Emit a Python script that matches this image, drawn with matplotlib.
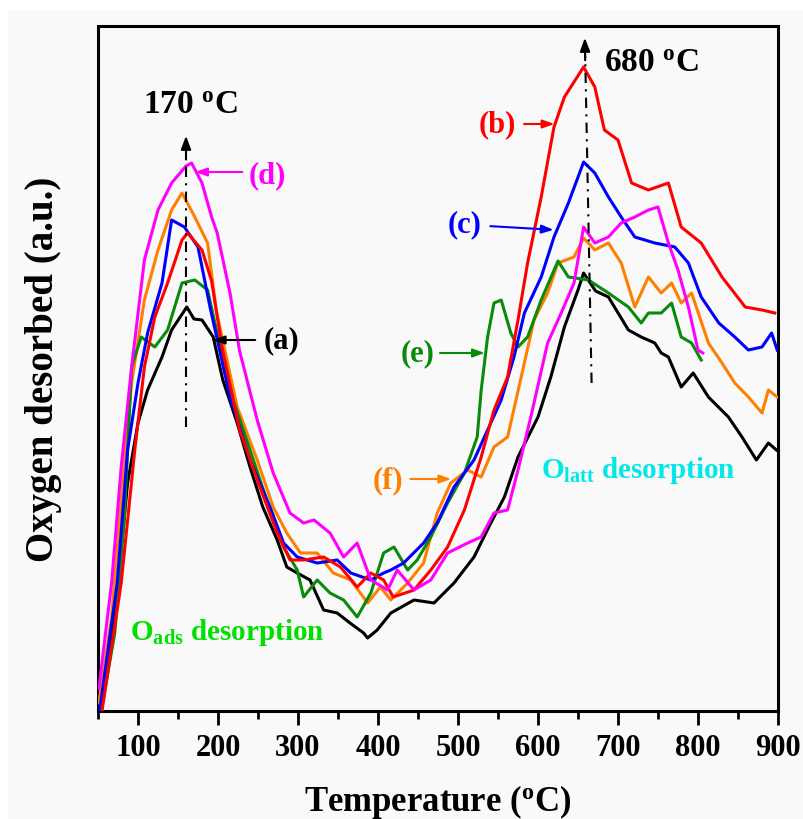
import matplotlib
matplotlib.use("Agg")
import matplotlib.pyplot as plt
from matplotlib.patches import Rectangle

plt.rcParams['font.family'] = ['Liberation Serif', 'DejaVu Serif']
plt.rcParams['font.weight'] = 'bold'
plt.rcParams['mathtext.fontset'] = 'custom'
plt.rcParams['mathtext.rm'] = 'Liberation Serif:bold'
plt.rcParams['mathtext.it'] = 'Liberation Serif:bold:italic'
plt.rcParams['mathtext.bf'] = 'Liberation Serif:bold'

# ---- data (temperature in degC, signal in a.u.) ----
T_a = [52, 54, 71, 87, 100, 112, 130, 142, 161, 170, 180, 194, 206, 224, 240, 256, 274, 286, 299, 315, 332, 349,
       365, 382, 387, 399, 416, 445, 470, 495, 520, 541, 558, 575, 600, 616, 633, 650, 657, 672, 688, 713, 729,
       746, 754, 763, 779, 794, 813, 838, 855, 873, 888, 898]
y_a = [0, 2, 94, 228, 288, 321, 354, 381, 404, 392, 391, 374, 331, 288, 244, 204, 171, 144, 138, 131, 101, 98,
       88, 78, 73, 81, 98, 111, 108, 128, 154, 188, 214, 254, 294, 334, 384, 421, 438, 420, 414, 381, 374,
       368, 358, 354, 324, 338, 314, 294, 274, 251, 268, 261]

T_b = [55, 79, 96, 108, 121, 137, 155, 162, 180, 192, 205, 227, 249, 274, 290, 307, 332, 353, 374, 391, 407, 419,
       445, 466, 487, 508, 529, 545, 562, 575, 587, 604, 620, 633, 657, 671, 683, 700, 717, 738, 763, 779, 804,
       830, 859, 880, 896]
y_b = [0, 128, 261, 344, 394, 428, 471, 478, 461, 430, 364, 281, 231, 178, 151, 151, 154, 144, 124, 138, 131, 114,
       121, 141, 164, 201, 254, 301, 334, 391, 448, 514, 584, 614, 644, 624, 581, 571, 528, 521, 528, 484, 468,
       434, 404, 401, 398]

T_c = [52, 74, 87, 100, 112, 130, 142, 158, 175, 190, 215, 240, 265, 282, 299, 324, 349, 366, 391, 407, 416, 432,
       457, 474, 495, 520, 541, 554, 570, 583, 604, 620, 638, 657, 671, 688, 704, 721, 746, 771, 788, 804, 826,
       846, 863, 880, 892, 899]
y_c = [0, 128, 261, 328, 378, 428, 491, 484, 464, 404, 314, 251, 204, 168, 154, 148, 151, 138, 131, 138, 141, 148,
       168, 188, 224, 251, 288, 311, 354, 398, 434, 474, 508, 549, 538, 514, 494, 474, 468, 464, 448, 414, 388,
       374, 361, 364, 378, 361]

T_d = [51, 67, 79, 92, 108, 125, 142, 160, 167, 180, 192, 199, 215, 227, 249, 269, 290, 307, 320, 340, 357, 374,
       391, 412, 424, 445, 466, 487, 512, 529, 545, 562, 575, 591, 612, 629, 645, 657, 671, 688, 704, 721, 738,
       750, 763, 775, 788, 800, 806]
y_d = [22, 128, 244, 344, 451, 501, 528, 545, 548, 528, 494, 478, 418, 360, 291, 238, 198, 188, 191, 178, 154, 168,
       131, 121, 141, 121, 131, 158, 168, 174, 198, 201, 241, 294, 368, 398, 428, 484, 468, 474, 488, 494, 501,
       504, 468, 441, 404, 361, 358]

T_e = [54, 71, 83, 92, 104, 121, 137, 155, 171, 187, 198, 219, 240, 261, 282, 299, 307, 324, 340, 357, 374, 391,
       407, 420, 437, 449, 466, 487, 508, 524, 529, 537, 545, 554, 566, 575, 587, 604, 625, 638, 663, 688, 713,
       729, 738, 754, 767, 779, 792, 804]
y_e = [0, 78, 194, 344, 374, 364, 381, 428, 431, 421, 381, 311, 261, 211, 164, 141, 114, 131, 118, 111, 94, 118,
       158, 164, 141, 151, 174, 208, 238, 274, 321, 374, 408, 411, 378, 364, 374, 411, 450, 434, 431, 418, 404,
       388, 398, 398, 408, 374, 368, 351]

T_f = [51, 67, 79, 92, 108, 125, 142, 155, 171, 187, 198, 224, 249, 269, 286, 303, 324, 344, 366, 387, 403, 416,
       437, 457, 474, 491, 512, 529, 545, 562, 579, 595, 612, 625, 645, 657, 671, 688, 704, 721, 738, 754, 767,
       779, 792, 813, 830, 846, 863, 880, 888, 899]
y_f = [8, 94, 211, 328, 411, 461, 501, 518, 494, 468, 400, 304, 251, 204, 178, 158, 158, 138, 131, 108, 124, 111,
       128, 148, 198, 228, 241, 234, 264, 274, 334, 391, 418, 448, 454, 473, 461, 468, 448, 404, 434, 418, 428,
       408, 418, 368, 348, 328, 314, 298, 321, 314]

series = [
    ("a", T_a, y_a, "#000000"),
    ("f", T_f, y_f, "#ff8000"),
    ("e", T_e, y_e, "#0a8a0a"),
    ("c", T_c, y_c, "#0000ff"),
    ("b", T_b, y_b, "#ff0000"),
    ("d", T_d, y_d, "#ff00ff"),
]

xticks = [100, 200, 300, 400, 500, 600, 700, 800, 900]

fig = plt.figure(figsize=(8.04, 8.2), dpi=100)
fig.patch.set_facecolor("white")
fig.add_artist(Rectangle((8 / 804, 0), 1, 1 - 11 / 820, transform=fig.transFigure,
                         facecolor="#f9f9f9", edgecolor="none", zorder=-10))
ax = fig.add_axes([98 / 804, 1 - 712 / 820, (778 - 98) / 804, (712 - 27) / 820])
ax.set_facecolor("#f9f9f9")

for name, T, y, col in series:
    ax.plot(T, y, color=col, lw=2.2, zorder=3)

ax.set_xlim(50, 900)
ax.set_ylim(0, 685)
ax.set_xticks(xticks)
ax.set_xticks(range(50, 900, 100), minor=True)
ax.set_yticks([])
ax.tick_params(axis="x", which="major", direction="out", length=10, width=2, labelsize=22, pad=6)
ax.tick_params(axis="x", which="minor", direction="out", length=6, width=2)
for s in ax.spines.values():
    s.set_linewidth(2.2)

ax.set_xlabel("Temperature ($^{\\rm o}$C)", fontsize=25, fontweight="bold", labelpad=14)
ax.set_ylabel("Oxygen desorbed (a.u.)", fontsize=28, fontweight="bold", labelpad=26)

# peak arrows (dash-dot)
ax.plot([160, 160], [284, 560], color="k", lw=1.5, ls=(0, (5, 3, 1, 3)), zorder=4)
ax.annotate("", xy=(160, 578), xytext=(160, 550),
            arrowprops=dict(arrowstyle="-|>,head_length=0.8,head_width=0.3", color="k", lw=1.5), zorder=4)
ax.plot([667, 659], [328, 655], color="k", lw=1.5, ls=(0, (5, 3, 1, 3)), zorder=4)
ax.annotate("", xy=(658.5, 676), xytext=(659, 648),
            arrowprops=dict(arrowstyle="-|>,head_length=0.8,head_width=0.3", color="k", lw=1.5), zorder=4)

ax.text(165, 606, "170 $^{\\rm o}$C", fontsize=24, fontweight="bold", ha="center", va="center")
ax.text(742, 648, "680 $^{\\rm o}$C", fontsize=24, fontweight="bold", ha="center", va="center")

labels = [
    ("(d)", (262, 536), (234, 539), (168, 539), "#ff00ff"),
    ("(a)", (279, 371), (250, 371), (190, 371), "#000000"),
    ("(b)", (549, 587), (579, 587), (624, 587), "#ff0000"),
    ("(c)", (508, 487), (537, 485), (623, 481), "#0000ff"),
    ("(e)", (450, 358), (474, 358), (537, 358), "#0a8a0a"),
    ("(f)", (412, 231), (437, 232), (495, 232), "#ff8000"),
]
for txt, tpos, a0, a1, col in labels:
    ax.text(tpos[0], tpos[1], txt, fontsize=22, fontweight="bold", color=col, ha="center", va="center")
    ax.annotate("", xy=a1, xytext=a0,
                arrowprops=dict(arrowstyle="-|>,head_length=0.7,head_width=0.25", color=col, lw=1.5))

ax.text(90, 79, "O$_{\\rm ads}$ desorption", fontsize=21, fontweight="bold", color="#00e000",
        ha="left", va="center")
ax.text(604, 241, "O$_{\\rm latt}$ desorption", fontsize=21, fontweight="bold", color="#00e8e8",
        ha="left", va="center")

fig.savefig("out.png", dpi=100, facecolor=fig.get_facecolor())
